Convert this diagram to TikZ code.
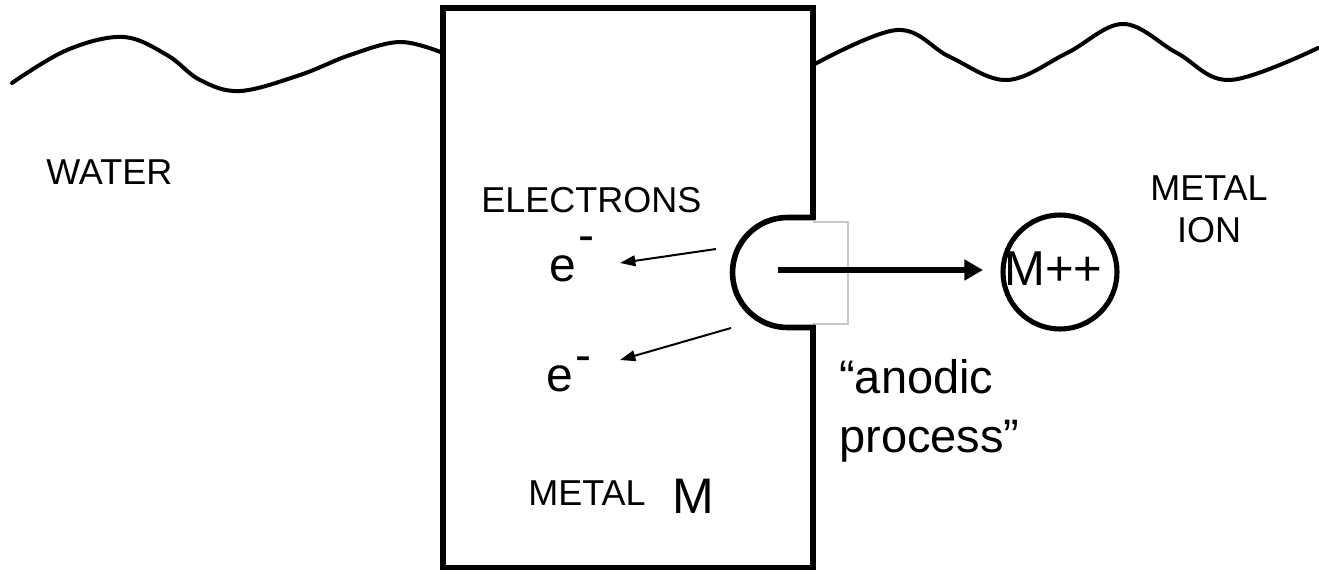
\documentclass[tikz,border=0pt]{standalone}
\usepackage{fontspec}
\setmainfont{Liberation Sans}
\usetikzlibrary{arrows.meta}
\begin{document}
\begin{tikzpicture}[x=0.75pt,y=-0.75pt,
  lbl/.style={inner sep=0pt,anchor=base west,font=\fontsize{27}{32}\selectfont},
  biglbl/.style={inner sep=0pt,anchor=base west,font=\fontsize{36}{42}\selectfont},
  wave/.style={line width=3pt,line cap=round},
  frame/.style={line width=4.2pt},
  earrow/.style={line width=1.5pt,-{Triangle[length=11.5pt,width=8pt]}},
  mainarrow/.style={line width=4.5pt,-{Triangle[length=14pt,width=15pt]}},
  ioncircle/.style={circle,draw,line width=3.8pt,minimum size=85.5pt,inner sep=0pt},
  ghost/.style={draw=black!22,line width=0.8pt}
]
\useasboundingbox (0,0) rectangle (1319,570);
\fill[white] (0,0) rectangle (1319,570);

% water surface
\draw[wave] plot[smooth,tension=0.6] coordinates {(12,83) (67,50) (123,37) (167,55) (200,80) (240,91) (300,75) (350,55) (400,42) (443,53)};
\draw[wave] plot[smooth,tension=0.6] coordinates {(813,65) (897,30) (950,57) (1007,80) (1067,53) (1123,24) (1177,53) (1230,80) (1318,48)};

% metal block
\draw[frame] (443,8) rectangle (813,568);
\fill[white] (806,220) rectangle (820,325);
\draw[ghost] (813,222) -- (848,222) -- (848,324) -- (813,324);
\draw[frame] (815,217.5) -- (787.5,217.5) arc[start angle=270,end angle=90,radius=55] -- (815,327.5);

% coordinates
\coordinate (astart) at (778,270);
\coordinate (aend) at (983,270);
\coordinate (e1s) at (716,249);
\coordinate (e1t) at (620,263);
\coordinate (e2s) at (731,328);
\coordinate (e2t) at (620,360);

% ion
\node[ioncircle] (ion) at (1060,272) {};
\node[inner sep=0pt,anchor=base west,font=\fontsize{36.75}{42}\selectfont] (mpp) at (1004,285) {M++};

% arrows
\draw[mainarrow] (astart) -- (aend);
\draw[earrow] (e1s) -- (e1t);
\draw[earrow] (e2s) -- (e2t);

% labels
\node[lbl] (water) at (46,185) {WATER};
\node[lbl] (electrons) at (481,213) {ELECTRONS};
\node[lbl,anchor=base] (metal1) at (1209,200) {METAL};
\node[lbl,anchor=base] (ionlbl) at (1209,243) {ION};
\node[lbl] (metal2) at (528,505) {METAL};
\node[inner sep=0pt,anchor=base west,font=\fontsize{37.5}{42}\selectfont] (mlbl) at (672,513) {M};

\node[biglbl] (e1) at (549,281) {e};
\node[biglbl] (m1) at (578,251) {\raisebox{0pt}[0.33em][0pt]{-}};
\node[biglbl] (e2) at (546,391) {e};
\node[biglbl] (m2) at (575,371) {\raisebox{0pt}[0.33em][0pt]{-}};

\node[inner sep=0pt,anchor=base west,font=\fontsize{35.25}{42}\selectfont] (anod) at (839,393) {“anodic};
\node[inner sep=0pt,anchor=base west,font=\fontsize{35.25}{42}\selectfont] (proc) at (839,452) {process”};
\end{tikzpicture}
\end{document}
